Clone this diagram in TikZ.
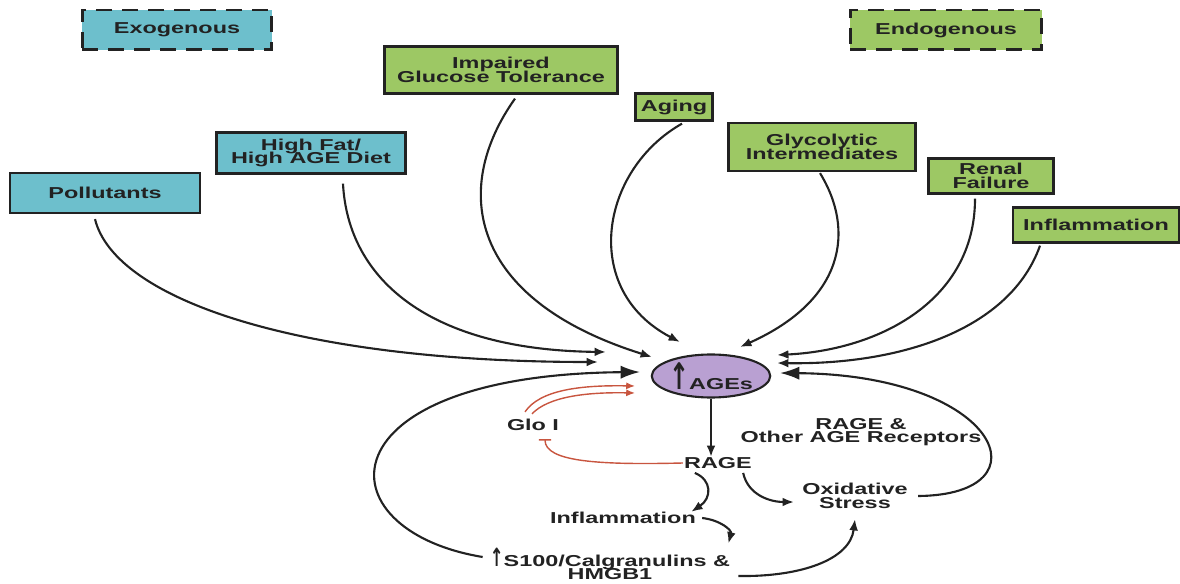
\documentclass[tikz,border=0pt]{standalone}
\usepackage{fontspec}
\usepackage{graphicx}
\setmainfont{Liberation Sans}[FakeStretch=1.48]
\newfontfamily\uparrfont{DejaVu Sans}
\usetikzlibrary{arrows.meta,shapes.geometric}
\definecolor{exofill}{HTML}{6DBFCC}
\definecolor{endofill}{HTML}{9DC864}
\definecolor{agefill}{HTML}{B9A0D2}
\definecolor{inkdark}{HTML}{222222}
\definecolor{glored}{HTML}{C8553F}
\newcommand{\uparr}[1]{\scalebox{0.85}[1.3]{\uparrfont\bfseries\fontsize{#1}{#1}\selectfont ↑}}
\newcommand{\tightlines}{\lineskiplimit=-5pt\relax}

\begin{document}
\begin{tikzpicture}[x=0.02cm,y=-0.02cm,
  every node/.style={font=\bfseries\fontsize{9}{7.8}\selectfont\tightlines,text=inkdark,align=center,inner sep=0pt},
  exobox/.style={draw=inkdark,line width=1.3pt,fill=exofill},
  endobox/.style={draw=inkdark,line width=1.3pt,fill=endofill},
  keybox/.style={line width=1.7pt,dash pattern=on 0.32cm off 0.2cm},
  feed/.style={draw=inkdark,line width=1.2pt,-{Latex[length=6.5pt,width=5pt]}},
  bigfeed/.style={draw=inkdark,line width=1.2pt,-{Latex[length=11pt,width=7.5pt]}},
  gloarrow/.style={draw=glored,line width=0.8pt,-{Latex[length=5pt,width=4pt]}},
  glostop/.style={draw=glored,line width=0.8pt,-{Bar[width=7pt]}}]
\useasboundingbox (0,0) rectangle (1180,584);

% key boxes
\node[exobox,keybox,minimum width=3.8cm,minimum height=0.8cm] (exo) at (177,30) {Exogenous};
\node[endobox,keybox,minimum width=3.84cm,minimum height=0.8cm] (endo) at (946,30) {Endogenous};

% sources
\node[exobox,minimum width=3.8cm,minimum height=0.8cm] (poll) at (105,193) {Pollutants};
\node[exobox,minimum width=3.78cm,minimum height=0.82cm] (diet) at (311,153) {High Fat/\\High AGE Diet};
\node[endobox,minimum width=4.66cm,minimum height=0.94cm] (igt) at (501,70) {Impaired\\Glucose Tolerance};
\node[endobox,minimum width=1.54cm,minimum height=0.54cm] (aging) at (674,107) {Aging};
\node[endobox,minimum width=3.74cm,minimum height=0.96cm] (glyco) at (822,147) {Glycolytic\\Intermediates};
\node[endobox,minimum width=2.5cm,minimum height=0.7cm] (renal) at (991,176) {Renal\\Failure};
\node[endobox,minimum width=3.32cm,minimum height=0.7cm] (infla) at (1096,225) {Inflammation};

% centre
\node[ellipse,draw=inkdark,line width=1.2pt,fill=agefill,minimum width=2.28cm,minimum height=0.86cm] (ages) at (711,376) {\uparr{16}AGEs};
\node (glo) at (533,425) {Glo I};
\node (rage) at (718,463) {RAGE};
\node (recep) at (861,432) {RAGE \&\\Other AGE Receptors};
\node (oxid) at (855,496) {Oxidative\\Stress};
\node (inflb) at (623,518) {Inflammation};
\node (s100) at (610,564) {\uparr{11}S100/Calgranulins \&\\HMGB1};

\coordinate (inP) at (598,362);
\coordinate (inD) at (606,352);
\coordinate (inI) at (652,357);
\coordinate (inA) at (680,342);
\coordinate (inG) at (740,347);
\coordinate (inR) at (777,355);
\coordinate (inF) at (777,363);
\coordinate (loopL) at (640,372);
\coordinate (loopR) at (780,373);
\coordinate (gloA) at (635,386);
\coordinate (gloB) at (635,393);

% inputs to AGEs
\draw[feed] ([xshift=-0.2cm,yshift=-0.1cm]poll.south) .. controls (115,300) and (300,362) .. (inP);
\draw[feed] ([xshift=0.64cm,yshift=-0.18cm]diet.south) .. controls (348,280) and (430,350) .. (inD);
\draw[feed] ([xshift=0.28cm,yshift=-0.08cm]igt.south) .. controls (450,190) and (470,300) .. (inI);
\draw[feed] ([xshift=0.16cm,yshift=-0.04cm]aging.south) .. controls (600,170) and (580,290) .. (inA);
\draw[feed] ([xshift=-0.04cm,yshift=-0.02cm]glyco.south) .. controls (855,230) and (845,300) .. (inG);
\draw[feed] ([xshift=-0.32cm,yshift=-0.08cm]renal.south) .. controls (975,300) and (880,350) .. (inR);
\draw[feed] ([xshift=-1.12cm,yshift=-0.04cm]infla.south) .. controls (1010,330) and (900,365) .. (inF);

% downstream
\draw[feed,line width=1.4pt] (ages.south) -- (ages.south |- rage.north);
\draw[feed] ([xshift=0.22cm,yshift=-0.08cm]rage.south west) .. controls (712,480) and (712,498) .. ([xshift=-0.1cm]inflb.north east);
\draw[feed] ([xshift=-0.18cm,yshift=-0.08cm]rage.south east) .. controls (748,495) and (770,502) .. ([xshift=-0.16cm,yshift=-0.12cm]oxid.west);
\draw[feed] ([xshift=0.12cm]inflb.east) .. controls (720,520) and (732,530) .. ([xshift=-0.04cm,yshift=0.08cm]s100.north east);
\draw[feed] ([xshift=0.16cm,yshift=-0.24cm]s100.east) .. controls (800,577) and (850,560) .. ([yshift=-0.2cm]oxid.south);

% feedback loops
\draw[bigfeed] ([xshift=-0.14cm,yshift=0.14cm]s100.west) .. controls (320,530) and (320,375) .. (loopL);
\draw[bigfeed] ([xshift=0.2cm]oxid.east) .. controls (1050,495) and (1000,375) .. (loopR);

% Glo I
\draw[gloarrow] ([xshift=-0.16cm,yshift=0.14cm]glo.north) .. controls (540,390) and (580,385) .. (gloA);
\draw[gloarrow] ([xshift=-0.02cm,yshift=0.1cm]glo.north) .. controls (548,397) and (585,392) .. (gloB);
\draw[glostop] ([xshift=-0.02cm]rage.west) .. controls (600,465) and (545,462) .. ([xshift=0.24cm,yshift=-0.16cm]glo.south);
\end{tikzpicture}
\end{document}
